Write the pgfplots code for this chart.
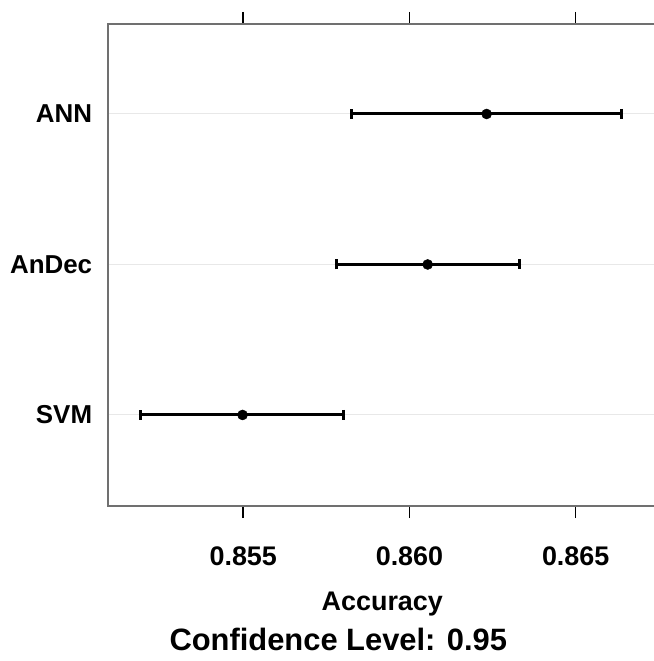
\documentclass[border=0pt]{standalone}
\usepackage{fontspec}
\setmainfont{Liberation Sans}
\usepackage{pgfplots}
\pgfplotsset{compat=1.18}
\definecolor{framec}{HTML}{707070}
\definecolor{gridc}{HTML}{E8E8E8}
\begin{document}
\begin{tikzpicture}
\useasboundingbox (-108.3bp,-155bp) rectangle (545.7bp,506bp);
\begin{axis}[
  scale only axis, width=548bp, height=482bp,
  xmin=0.85094, xmax=0.867426,
  ymin=0.395, ymax=3.598,
  axis line style={framec, line width=2bp},
  tick align=outside,
  major tick length=12bp,
  xtick={0.855,0.860,0.865},
  xtick pos=both,
  x tick style={black, line width=1.6bp},
  ytick={1,2,3},
  yticklabels={SVM,AnDec,ANN},
  y tick style={draw=none},
  ymajorgrids,
  grid style={gridc, line width=1bp},
  /pgf/number format/.cd, fixed, fixed zerofill, precision=3, assume math mode=true,
  /pgfplots/.cd,
  xticklabel style={font=\bfseries\fontsize{27}{30}\selectfont, yshift=-25bp},
  yticklabel style={font=\bfseries\fontsize{26}{30}\selectfont, inner sep=0pt, xshift=-4bp},
  xticklabel pos=left,
  xlabel={Accuracy},
  xlabel style={font=\bfseries\fontsize{27}{30}\selectfont, at={(axis description cs:0.5,0)}, anchor=base, yshift=-104bp},
  title={Confidence Level: 0.95},
  title style={font=\bfseries\fontsize{31}{34}\selectfont, at={(axis description cs:0.5,0)}, anchor=base, yshift=-150bp, xshift=-44bp},
]
\addplot+[black, line width=3bp, mark=*, mark size=5bp, mark options={fill=black, line width=0.5bp}, only marks,
  error bars/.cd, x dir=both, x explicit,
  error mark=|,
  error bar style={black, line width=3bp},
  error mark options={black, line width=3bp, mark size=5bp}]
  coordinates {
    (0.854979,1) += (0.003050,0) -= (0.003066,0)
    (0.860548,2) += (0.002776,0) -= (0.002738,0)
    (0.862322,3) += (0.004062,0) -= (0.004061,0)
  };
\end{axis}
\end{tikzpicture}
\end{document}
